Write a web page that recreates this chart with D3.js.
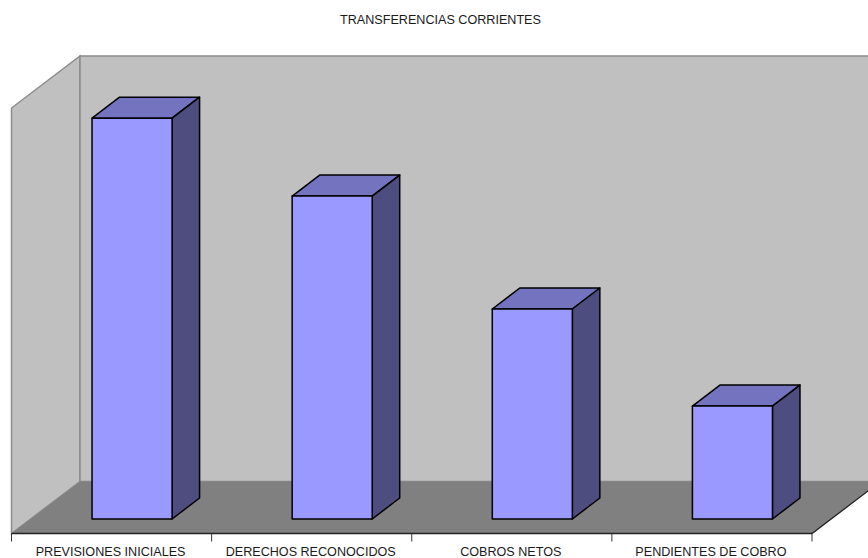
<!DOCTYPE html>
<html>
<head>
<meta charset="utf-8">
<style>
  html, body { margin: 0; padding: 0; background: #fff; }
  svg { display: block; }
  text { font-family: "Liberation Sans", Arial, sans-serif; font-size: 12.6px; fill: #1a1a1a; }
</style>
<script src="https://d3js.org/d3.v7.min.js"></script>
</head>
<body>
<div id="chart-area"></div>
<script>
// values have no axis in the picture, so they are estimated from bar heights on a 0-10000 scale
const categories = ["PREVISIONES INICIALES", "DERECHOS RECONOCIDOS", "COBROS NETOS", "PENDIENTES DE COBRO"];
const values = [9420, 7590, 4935, 2655];
const maxValue = 10000;
const chartTitle = "TRANSFERENCIAS CORRIENTES";

const width = 868, height = 558;

// the 3d box: front floor edge, wall height, and how far the back wall is pushed
const left = 11.5, right = 812, floorY = 533.5, wallH = 425.5;
const depthX = 68.5, depthY = 52;
// bars stand a little behind the front edge and have their own small depth
const barShiftX = 20.5, barFrontY = 519, barDepthX = 27.5, barDepthY = 21;

const svg = d3.select("#chart-area")
    .append("svg")
    .attr("width", width)
    .attr("height", height);

const x = d3.scaleBand()
    .domain(categories)
    .range([left, right])
    .paddingInner(0.6)
    .paddingOuter(0.3);

const y = d3.scaleLinear()
    .domain([0, maxValue])
    .range([barFrontY, barFrontY - wallH]);

const pts = a => a.map(p => p.join(",")).join(" ");

// side wall
svg.append("polygon")
    .attr("points", pts([[left, floorY], [left, floorY - wallH], [left + depthX, floorY - wallH - depthY], [left + depthX, floorY - depthY]]))
    .attr("fill", "#c0c0c0")
    .attr("stroke", "#8c8c8c")
    .attr("stroke-width", 1.5);

// back wall
svg.append("polygon")
    .attr("points", pts([[left + depthX, floorY - depthY], [left + depthX, floorY - wallH - depthY], [right + depthX, floorY - wallH - depthY], [right + depthX, floorY - depthY]]))
    .attr("fill", "#c0c0c0")
    .attr("stroke", "#8c8c8c")
    .attr("stroke-width", 1.5);

// floor
svg.append("polygon")
    .attr("points", pts([[left, floorY], [left + depthX, floorY - depthY], [right + depthX, floorY - depthY], [right, floorY]]))
    .attr("fill", "#808080");

// front and right floor edges
svg.append("polyline")
    .attr("points", pts([[left, floorY], [right, floorY], [right + depthX, floorY - depthY]]))
    .attr("fill", "none")
    .attr("stroke", "#222")
    .attr("stroke-width", 1.3);

// ticks on the category axis
const tickX = [...categories.map(c => x(c) - x.step() * 0.3), right];
svg.selectAll("line.tick")
    .data(tickX)
    .join("line")
    .attr("class", "tick")
    .attr("x1", d => d)
    .attr("x2", d => d)
    .attr("y1", floorY)
    .attr("y2", floorY + 8)
    .attr("stroke", "#333");

const bars = svg.selectAll("g.bar")
    .data(categories.map((c, i) => ({ c, v: values[i] })))
    .join("g")
    .attr("class", "bar")
    .attr("stroke", "#000")
    .attr("stroke-width", 1.5)
    .attr("stroke-linejoin", "round");

const x0 = d => x(d.c) + barShiftX;
const x1 = d => x0(d) + x.bandwidth();

// top
bars.append("polygon")
    .attr("fill", "#7373bf")
    .attr("points", d => pts([[x0(d), y(d.v)], [x1(d), y(d.v)], [x1(d) + barDepthX, y(d.v) - barDepthY], [x0(d) + barDepthX, y(d.v) - barDepthY]]));

// side
bars.append("polygon")
    .attr("fill", "#4d4d80")
    .attr("points", d => pts([[x1(d), y(d.v)], [x1(d) + barDepthX, y(d.v) - barDepthY], [x1(d) + barDepthX, y(0) - barDepthY], [x1(d), y(0)]]));

// front
bars.append("rect")
    .attr("fill", "#9999ff")
    .attr("x", x0)
    .attr("y", d => y(d.v))
    .attr("width", x.bandwidth())
    .attr("height", d => y(0) - y(d.v));

// category labels
svg.selectAll("text.cat")
    .data(categories)
    .join("text")
    .attr("class", "cat")
    .attr("x", d => x(d) + x.bandwidth() / 2 - 1)
    .attr("y", 555.5)
    .attr("text-anchor", "middle")
    .text(d => d);

svg.append("text")
    .attr("x", 440.5)
    .attr("y", 23.5)
    .attr("text-anchor", "middle")
    .text(chartTitle);
</script>
</body>
</html>
